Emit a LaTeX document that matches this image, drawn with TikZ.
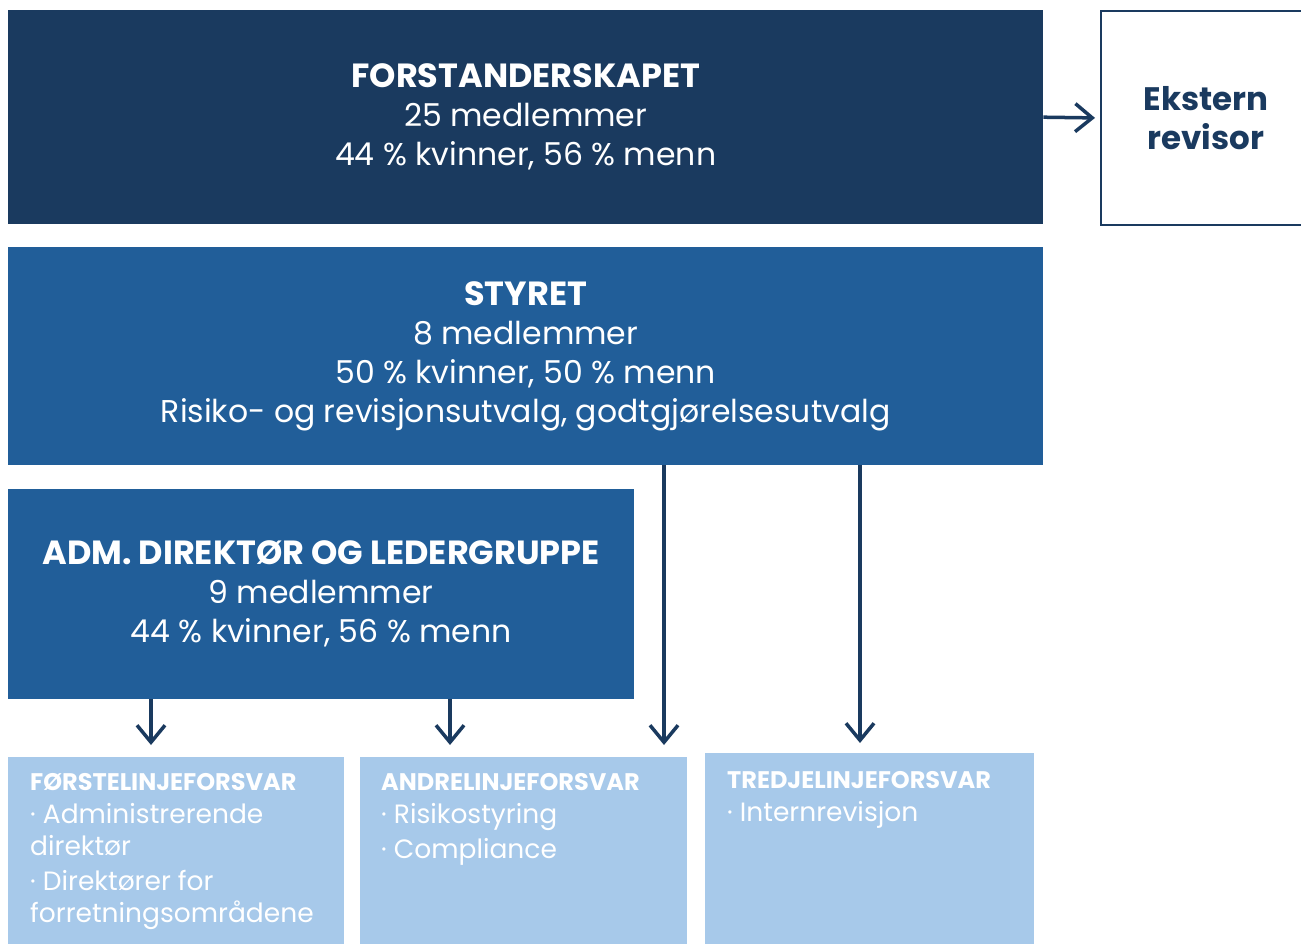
\documentclass[tikz,border=0pt]{standalone}
\usepackage{fontspec}
\setmainfont{Poppins}
\usetikzlibrary{arrows.meta}
\definecolor{navy}{HTML}{1A3A5F}
\definecolor{midblue}{HTML}{215E99}
\definecolor{lightblue}{HTML}{A7C9EA}
\newcommand{\linettl}[1]{{\fontsize{24}{24}\selectfont\bfseries #1}}
\newcommand{\bigttl}[1]{{\fontsize{33.5}{39}\selectfont\bfseries #1}}
\tikzset{
  x=1pt,y=-1pt,
  bigbox/.style={anchor=north west, inner sep=0pt, text=white, align=center, font=\fontsize{31.5}{39}\selectfont},
  linebox/.style={anchor=north west, inner sep=0pt, fill=lightblue},
  linetext/.style={anchor=north west, inner sep=0pt, text=white, align=left, font=\fontsize{26.5}{32}\selectfont},
  arr/.style={draw=navy, line width=3.5pt, -{Straight Barb[length=17pt,width=28pt,line width=3.5pt]}}
}
\begin{document}
\begin{tikzpicture}
\useasboundingbox (0,0) rectangle (1301,944);
\fill[white] (0,0) rectangle (1301,944);
\node[bigbox, fill=navy, minimum width=1035pt, minimum height=214pt] (f) at (8,10)
  {\bigttl{FORSTANDERSKAPET}\\25 medlemmer\\44 \% kvinner, 56 \% menn};
\node[anchor=north west, inner sep=0pt, draw=navy, line width=2pt, fill=white, minimum width=210pt, minimum height=214pt] (e) at (1100,10) {};
\node[text=navy, align=center, font=\fontsize{32.5}{39}\selectfont\bfseries] (et) at (1206,118) {Ekstern\\revisor};
\node[bigbox, fill=midblue, minimum width=1035pt, minimum height=218pt] (s) at (8,247)
  {\bigttl{STYRET}\\8 medlemmer\\50 \% kvinner, 50 \% menn\\Risiko- og revisjonsutvalg, godtgjørelsesutvalg};
\node[bigbox, fill=midblue, minimum width=626pt, minimum height=210pt] (a) at (8,489)
  {\bigttl{ADM. DIREKTØR OG LEDERGRUPPE}\\9 medlemmer\\44 \% kvinner, 56 \% menn};
\node[linebox, minimum width=336pt, minimum height=187pt] (l1) at (8,757) {};
\node[linebox, minimum width=327pt, minimum height=187pt] (l2) at (360,757) {};
\node[linebox, minimum width=329pt, minimum height=191pt] (l3) at (705,753) {};
\node[linetext] (t1) at (30,773) {\linettl{FØRSTELINJEFORSVAR}\\[1pt]· Administrerende\\direktør\\[3pt]· Direktører for\\forretningsområdene};
\node[linetext] (t2) at (381,773) {\linettl{ANDRELINJEFORSVAR}\\[1pt]· Risikostyring\\[3pt]· Compliance};
\node[linetext] (t3) at (727,771) {\linettl{TREDJELINJEFORSVAR}\\[1pt]· Internrevisjon};
\draw[arr, shorten >=5pt] (f.east) -- (e.west);
\draw[arr] (a.south -| 151,0) -- (151,745);
\draw[arr] (a.south -| 450,0) -- (450,745);
\draw[arr] (s.south -| 664,0) -- (664,745);
\draw[arr] (s.south -| 860,0) -- (860,743);
\end{tikzpicture}
\end{document}
